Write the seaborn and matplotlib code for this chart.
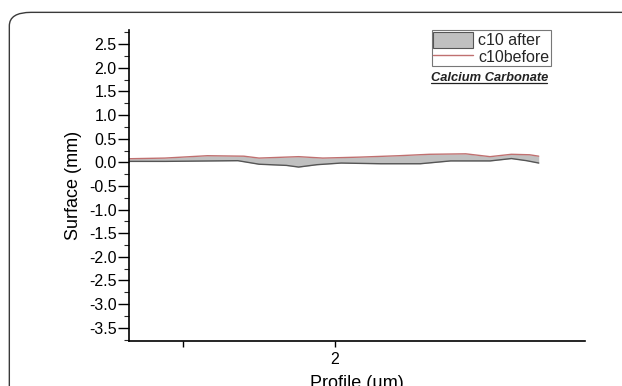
import numpy as np
import pandas as pd
import matplotlib
matplotlib.use("Agg")
import matplotlib.pyplot as plt
import seaborn as sns
from matplotlib.patches import FancyBboxPatch, Patch
from matplotlib.lines import Line2D

# Data
profile_before = [1.32, 1.44, 1.58, 1.70, 1.75, 1.88, 1.96, 2.08, 2.21, 2.31, 2.43, 2.51, 2.58, 2.64, 2.67]
surface_before = [0.076, 0.09, 0.14, 0.13, 0.09, 0.12, 0.09, 0.11, 0.14, 0.17, 0.18, 0.12, 0.17, 0.16, 0.13]

profile_after = [1.32, 1.44, 1.68, 1.75, 1.84, 1.88, 1.94, 2.02, 2.15, 2.28, 2.38, 2.51, 2.58, 2.63, 2.67]
surface_after = [0.02, 0.02, 0.035, -0.04, -0.065, -0.10, -0.05, -0.015, -0.03, -0.03, 0.03, 0.03, 0.08, 0.035, -0.015]

y_ticks = [2.5, 2.0, 1.5, 1.0, 0.5, 0.0, -0.5, -1.0, -1.5, -2.0, -2.5, -3.0, -3.5]
x_ticks = [1.5, 2.0]
x_tick_labels = ["", "2"]

sns.set_theme(style="white")
plt.rcParams['font.family'] = ['Liberation Sans', 'DejaVu Sans']

fig = plt.figure(figsize=(6.22, 3.86), dpi=100)
# panel border with rounded corner
border = FancyBboxPatch((0.015, -0.2), 1.2, 1.168, boxstyle="round,pad=0,rounding_size=0.035",
                        transform=fig.transFigure, fill=False, edgecolor="#3a3a3a", linewidth=1.0)
fig.patches.append(border)

ax = fig.add_axes([0.2074, 0.1166, 0.733, 0.8057])

df_b = pd.DataFrame({"Profile": profile_before, "Surface": surface_before})
df_a = pd.DataFrame({"Profile": profile_after, "Surface": surface_after})

# common grid for fill
xs = np.union1d(profile_before, profile_after)
yb = np.interp(xs, profile_before, surface_before)
ya = np.interp(xs, profile_after, surface_after)
ax.fill_between(xs, ya, yb, color="#c0c0c0", linewidth=0)
sns.lineplot(data=df_a, x="Profile", y="Surface", ax=ax, color="#555555", linewidth=1.0)
sns.lineplot(data=df_b, x="Profile", y="Surface", ax=ax, color="#c07070", linewidth=1.0)

ax.set_xlim(1.322, 2.822)
ax.set_ylim(-3.78, 2.8)
ax.set_yticks(y_ticks)
ax.set_yticklabels([f"{v:.1f}" for v in y_ticks])
ax.set_yticks(np.arange(-3.75, 2.8, 0.25), minor=True)
ax.set_xticks(x_ticks)
ax.set_xticklabels(x_tick_labels)

for s in ["top", "right"]:
    ax.spines[s].set_visible(False)
for s in ["left", "bottom"]:
    ax.spines[s].set_color("black")
    ax.spines[s].set_linewidth(1.2)

ax.tick_params(axis="y", which="major", direction="out", length=8, width=1.0, left=True,
               labelsize=11.5, colors="black", pad=1)
ax.tick_params(axis="y", which="minor", direction="out", length=3.5, width=0.8, left=True)
ax.tick_params(axis="x", which="major", direction="out", length=4, width=1.0, bottom=True,
               labelsize=11.5, colors="black", pad=4)

ax.set_ylabel("Surface (mm)", fontsize=13, color="black", labelpad=5)
ax.set_xlabel("Profile (µm)", fontsize=13, color="black", labelpad=6)

handles = [Patch(facecolor="#c0c0c0", edgecolor="#555555", linewidth=0.8),
           Line2D([0], [0], color="#c07070", linewidth=1.0)]
leg = ax.legend(handles, ["c10 after", "c10before"], loc="upper left",
                bbox_to_anchor=(0.664, 1.0), frameon=True, fontsize=11.5,
                fancybox=False, borderpad=0.1, handlelength=2.5, handleheight=1.2,
                handletextpad=0.3, labelspacing=0.0, borderaxespad=0)
leg.get_frame().set_edgecolor("#555555")
leg.get_frame().set_linewidth(0.8)

ax.text(0.662, 0.847, "Calcium Carbonate", transform=ax.transAxes, fontsize=9.3,
        fontweight="bold", fontstyle="italic", color="#222222", va="center", ha="left")
ax.plot([0.662, 0.917], [0.829, 0.829], transform=ax.transAxes, color="#222222",
        linewidth=0.9, clip_on=False)

fig.savefig("out.png", dpi=100)
